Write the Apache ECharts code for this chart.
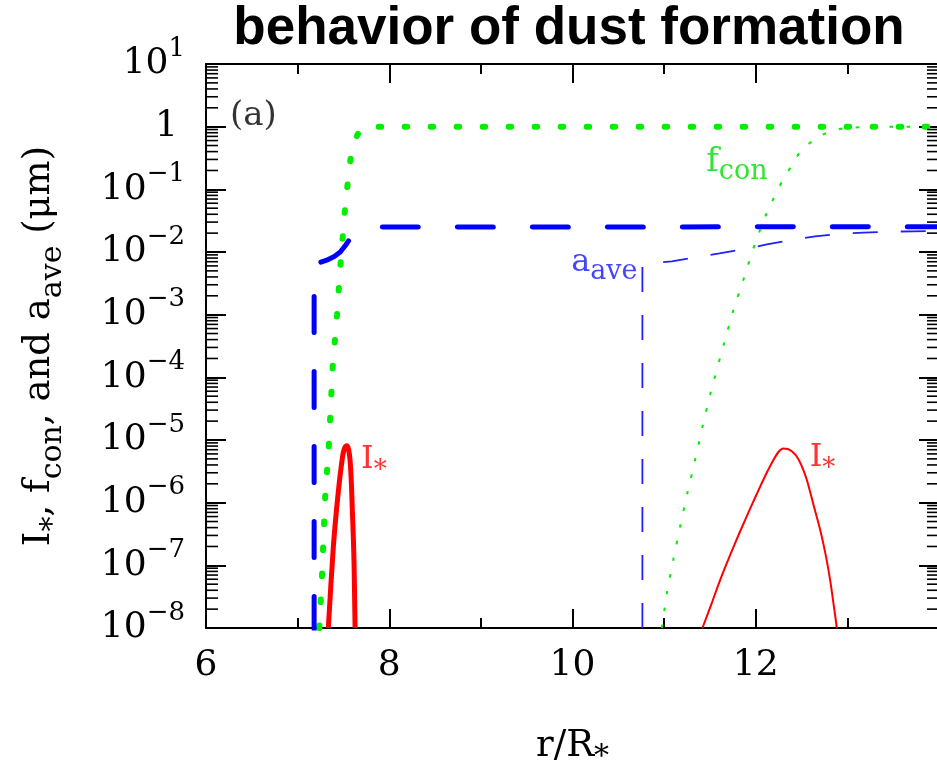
<!DOCTYPE html>
<html><head><meta charset="utf-8">
<script src="https://cdn.jsdelivr.net/npm/echarts@6/dist/echarts.min.js"></script>
<style>html,body{margin:0;padding:0;background:#fff;}#c{width:937px;height:762px;}</style>
</head><body><div id="c"></div>
<script>
// ---------------- data ----------------
const xTickValues = [6, 8, 10, 12, 14];
const yTickExps = [-8, -7, -6, -5, -4, -3, -2, -1, 0, 1];
const yTickLabels = ['10{sup|\u22128}', '10{sup|\u22127}', '10{sup|\u22126}', '10{sup|\u22125}', '10{sup|\u22124}',
                     '10{sup|\u22123}', '10{sup|\u22122}', '10{sup|\u22121}', '{one|1}', '10{sup|1}'];
const yMinorMantissas = [2, 3, 4, 5, 6, 7, 8, 9];

// f_con, first model (thick dotted)
const fconAX = [7.237, 7.266, 7.30, 7.34, 7.383, 7.43, 7.47, 7.517, 7.55, 7.58, 7.62, 7.67, 7.72, 7.78, 14];
const fconAY = [1e-8, 6.8e-8, 1.2e-6, 7.9e-6, 1.5e-4, 1.0e-3, 6.9e-3, 4.9e-2, 1.4e-1, 3.3e-1, 6.0e-1, 8.2e-1, 9.5e-1, 1.0, 1.0];
// f_con, second model (thin dotted)
const fconBX = [10.975, 11.03, 11.10, 11.175, 11.254, 11.338, 11.418, 11.51, 11.655, 11.757, 11.873, 11.986, 12.12, 12.285, 12.383, 12.477, 12.63, 12.776, 12.958, 13.21, 14];
const fconBY = [1e-8, 3.6e-8, 1.23e-7, 4.2e-7, 1.43e-6, 4.8e-6, 1.62e-5, 5.9e-5, 3.5e-4, 1.19e-3, 3.9e-3, 1.29e-2, 4.2e-2, 0.132, 0.228, 0.38, 0.612, 0.80, 0.94, 0.99, 1.0];
// a_ave, first model (thick dashed)
const aaveAX = [7.18, 7.18, 7.318, 7.40, 7.465, 7.53, 7.60, 7.70, 7.85, 14];
const aaveAY = [8.5e-9, 6.3e-3, 7.4e-3, 8.5e-3, 1.0e-2, 1.32e-2, 1.9e-2, 2.35e-2, 2.5e-2, 2.53e-2];
// a_ave, second model (thin dashed)
const aaveBX = [10.763, 10.763, 10.83, 11.084, 11.357, 11.604, 11.884, 12.121, 12.394, 12.648, 12.921, 13.176, 13.449, 13.718, 14];
const aaveBY = [1e-8, 6.2e-3, 6.6e-3, 7.1e-3, 8.3e-3, 9.5e-3, 1.12e-2, 1.32e-2, 1.55e-2, 1.78e-2, 1.95e-2, 2.04e-2, 2.11e-2, 2.14e-2, 2.16e-2];
// I_*, first model (thick solid)
const istarAX = [7.335, 7.39, 7.444, 7.492, 7.515, 7.536, 7.555, 7.572, 7.587, 7.597, 7.608, 7.616, 7.627];
const istarAY = [1e-8, 2.0e-7, 1.5e-6, 5.6e-6, 7.6e-6, 8.1e-6, 7.2e-6, 4.8e-6, 2.0e-6, 7.6e-7, 2.8e-7, 1.05e-7, 1e-8];
// I_*, second model (thin solid)
const istarBX = [11.418, 11.52, 11.611, 11.72, 11.83, 11.94, 12.048, 12.12, 12.193, 12.25, 12.30, 12.35, 12.40, 12.449, 12.50, 12.558, 12.63, 12.703, 12.76, 12.812, 12.885];
const istarBY = [1e-8, 2.5e-8, 5.8e-8, 1.45e-7, 3.5e-7, 8.1e-7, 1.8e-6, 3.0e-6, 4.8e-6, 6.5e-6, 7.3e-6, 7.2e-6, 6.5e-6, 5.4e-6, 3.9e-6, 2.3e-6, 9.3e-7, 3.7e-7, 1.55e-7, 5.8e-8, 1e-8];

// in-plot annotations (text and the data point they are anchored at)
const annotText = ['(a)', 'f{s|con}', 'a{s|ave}', 'I{s|*}', 'I{s|*}'];
const annotX = [6.262, 11.459, 9.985, 7.692, 12.589];
const annotY = [1.48, 0.273, 6.8e-3, 4.9e-6, 5.26e-6];

// ---------------- chart ----------------
const SERIF = 'DejaVu Serif';
const TICKFONT = 'DejaVu Serif';
const xMin = 6, xMax = 14, yMin = 1e-8, yMax = 10;
const pairs = (xs, ys) => xs.map((x, i) => [x, ys[i]]);

const yMinorTicks = [];
for (let e = -8; e <= 0; e++) yMinorMantissas.forEach(m => yMinorTicks.push([xMin, m * Math.pow(10, e)]));

const annotStyles = [
  { color: '#000', fontSize: 34, lineHeight: 40, rich: {} },
  { color: '#00dd00', fontSize: 34, lineHeight: 46, rich: { s: { fontFamily: SERIF, color: '#00dd00', fontSize: 27, lineHeight: 20, verticalAlign: 'bottom' } } },
  { color: '#1515ff', fontSize: 32, lineHeight: 46, rich: { s: { fontFamily: SERIF, color: '#1515ff', fontSize: 27, lineHeight: 17, verticalAlign: 'bottom' } } },
  { color: '#ff0000', fontSize: 32, lineHeight: 50, rich: { s: { fontFamily: SERIF, color: '#ff0000', fontSize: 26, lineHeight: 17, verticalAlign: 'bottom' } } },
  { color: '#ff0000', fontSize: 32, lineHeight: 50, rich: { s: { fontFamily: SERIF, color: '#ff0000', fontSize: 26, lineHeight: 17, verticalAlign: 'bottom' } } }
];
const annotData = annotText.map((t, i) => ({
  value: [annotX[i], annotY[i]],
  label: Object.assign({ show: true, formatter: t, fontFamily: SERIF, position: [0, 0], align: 'left', verticalAlign: 'middle' }, annotStyles[i])
}));

const xAxisBase = {
  type: 'value', min: xMin, max: xMax, interval: 2,
  axisLine: { show: true, onZero: false, lineStyle: { color: '#000', width: 2 } },
  axisTick: { show: true, inside: true, length: 19, lineStyle: { color: '#000', width: 2 } },
  minorTick: { show: true, splitNumber: 2, length: 10, lineStyle: { color: '#000', width: 2 } },
  splitLine: { show: false }, minorSplitLine: { show: false }
};
const yAxisBase = {
  type: 'log', logBase: 10, min: yMin, max: yMax, interval: 1, splitNumber: 9,
  axisLine: { show: true, onZero: false, lineStyle: { color: '#000', width: 2 } },
  axisTick: { show: true, inside: true, length: 20, lineStyle: { color: '#000', width: 2 } },
  splitLine: { show: false }
};

const option = {
  animation: false,
  backgroundColor: '#fff',
  title: {
    text: 'behavior of dust formation', left: 569, top: 3, padding: 0, textAlign: 'center',
    textStyle: { fontFamily: 'Liberation Sans', fontWeight: 'bold', fontSize: 53, color: '#000' }
  },
  grid: { left: 206, top: 64, width: 733, height: 564, containLabel: false, outerBoundsMode: 'none' },
  xAxis: [
    Object.assign({}, xAxisBase, {
      position: 'bottom',
      name: 'r/R{s|*}', nameLocation: 'middle', nameGap: 92, nameMoveOverlap: false,
      nameTextStyle: { fontFamily: SERIF, fontSize: 37, lineHeight: 52, color: '#000',
        rich: { s: { fontFamily: SERIF, fontSize: 30, lineHeight: 21, verticalAlign: 'bottom', color: '#000' } } },
      axisLabel: { show: true, margin: 20, fontFamily: TICKFONT, fontSize: 36, lineHeight: 36, color: '#000',
        showMaxLabel: false, showMinLabel: true }
    }),
    Object.assign({}, xAxisBase, { position: 'top', axisLabel: { show: false } })
  ],
  yAxis: [
    Object.assign({}, yAxisBase, {
      position: 'left',
      name: 'I{s|*}, f{s|con}, and a{s|ave} (\u03bcm)', nameLocation: 'middle', nameGap: 138, nameRotate: 90, nameMoveOverlap: false,
      nameTextStyle: { fontFamily: SERIF, fontSize: 37, lineHeight: 58, color: '#000',
        rich: { s: { fontFamily: SERIF, fontSize: 30, lineHeight: 26, verticalAlign: 'bottom', color: '#000' } } },
      axisLabel: {
        show: true, margin: 21, fontFamily: TICKFONT, fontSize: 36, lineHeight: 56, color: '#000',
        formatter: function (v) {
          const e = Math.round(Math.log10(v));
          const i = yTickExps.indexOf(e);
          return i >= 0 ? yTickLabels[i] : '';
        },
        rich: {
          sup: { fontFamily: TICKFONT, fontSize: 26, lineHeight: 22, verticalAlign: 'top', color: '#000' },
          one: { fontFamily: TICKFONT, fontSize: 36, color: '#000', padding: [0, 7, 0, 0] }
        }
      }
    }),
    Object.assign({}, yAxisBase, { position: 'right', axisLabel: { show: false } })
  ],
  series: [
    { name: 'fconA', type: 'line', data: pairs(fconAX, fconAY), showSymbol: false, symbol: 'none', clip: true, z: 3,
      lineStyle: { color: '#00ee00', width: 6, type: [2.5, 23.5], cap: 'round' } },
    { name: 'aaveA', type: 'line', data: pairs(aaveAX, aaveAY), showSymbol: false, symbol: 'none', clip: true, z: 3,
      lineStyle: { color: '#0000ff', width: 5, type: [36, 39], cap: 'round' } },
    { name: 'fconB', type: 'line', data: pairs(fconBX, fconBY), showSymbol: false, symbol: 'none', clip: true, smooth: 0.2, z: 3,
      lineStyle: { color: '#00ee00', width: 2, type: [3.5, 13.5] } },
    { name: 'aaveB', type: 'line', data: pairs(aaveBX, aaveBY), showSymbol: false, symbol: 'none', clip: true, z: 3,
      lineStyle: { color: '#2020ff', width: 1.8, type: [25, 23] } },
    { name: 'istarA', type: 'line', data: pairs(istarAX, istarAY), showSymbol: false, symbol: 'none', clip: true, smooth: 0.25, z: 4,
      lineStyle: { color: '#ff0000', width: 5, join: 'round' } },
    { name: 'istarB', type: 'line', data: pairs(istarBX, istarBY), showSymbol: false, symbol: 'none', clip: true, smooth: 0.25, z: 4,
      lineStyle: { color: '#ff0000', width: 2, join: 'round' } },
    { name: 'yMinorTicks', type: 'custom', data: yMinorTicks, silent: true, clip: false, z: 5,
      renderItem: function (params, api) {
        const v = api.value(1);
        const p = api.coord([xMin, v]);
        const q = api.coord([xMax, v]);
        return { type: 'group', children: [
          { type: 'line', shape: { x1: p[0], y1: p[1], x2: p[0] + 12, y2: p[1] }, style: { stroke: '#000', lineWidth: 1.6 } },
          { type: 'line', shape: { x1: q[0] - 12, y1: q[1], x2: q[0], y2: q[1] }, style: { stroke: '#000', lineWidth: 1.6 } }
        ] };
      } },
    { name: 'annotations', type: 'scatter', data: annotData, symbolSize: 0, silent: true, z: 6 }
  ]
};

const chart = echarts.init(document.getElementById('c'), null, { renderer: 'canvas' });
chart.setOption(option);
</script>
</body></html>
